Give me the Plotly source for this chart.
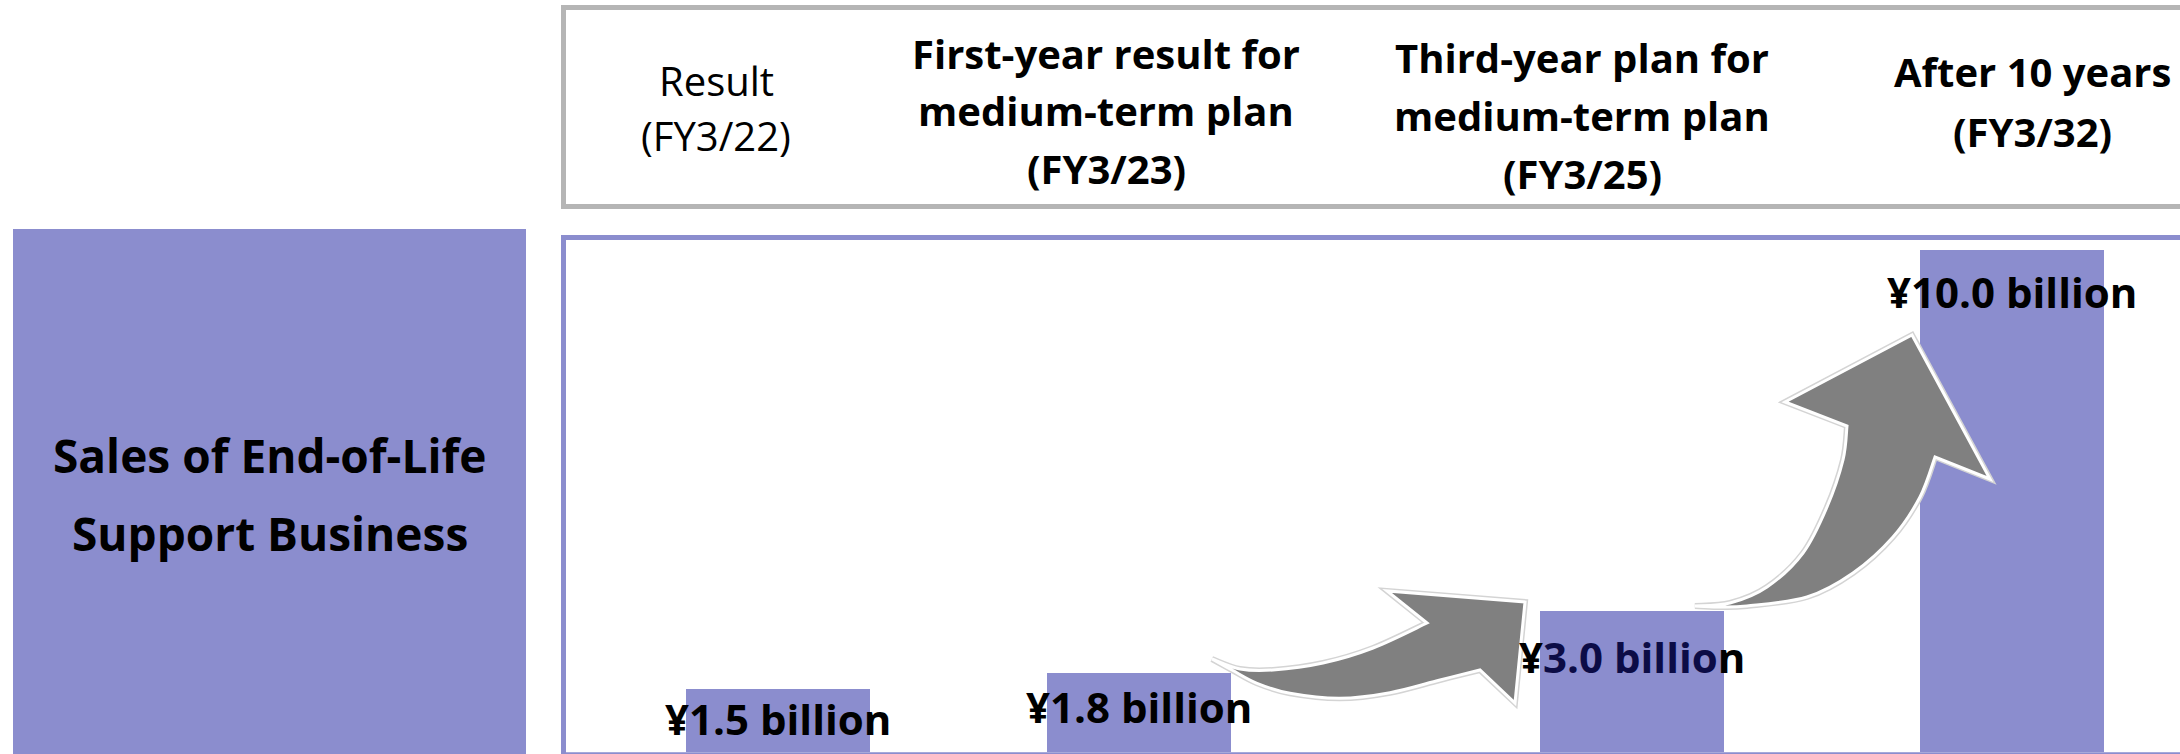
import plotly.graph_objects as go

W, H = 2180, 754

# ---------------- data ----------------
header_labels = [
    "Result<br>(FY3/22)",
    "First-year result for<br>medium-term plan<br>(FY3/23)",
    "Third-year plan for<br>medium-term plan<br>(FY3/25)",
    "After 10 years<br>(FY3/32)",
]
header_bold = [False, True, True, True]
sales_billion_yen = [1.5, 1.8, 3.0, 10.0]
value_labels = ["¥1.5 billion", "¥1.8 billion", "¥3.0 billion", "¥10.0 billion"]
row_title = "Sales of End-of-Life<br>Support Business"

# ---------------- layout constants ----------------
PURPLE = "#8b8dce"
GRAY_BORDER = "#b5b5b5"
ARROW_GRAY = "#808080"
NAVY = "#0c0c46"
FONT = "Open Sans"

BAR_SLOT = [0.0, 1.0, 2.366, 3.418]
BAR_WIDTH = 0.51
X_RANGE = [-0.587, 3.884]
Y_RANGE = [0.27, 10.2]
LABEL_SHIFT = [-30, -33, -45, -41]
HEADER_X = [716, 1106, 1582, 2032]
HEADER_Y0 = [80, 54, 58, 72]
HEADER_GAP = [56, 57, 57.5, 59.5]


def X(px):
    return px / W


def Y(py):
    return 1 - py / H


def pt(p):
    return f"{X(p[0]):.5f},{Y(p[1]):.5f}"


def smooth(points):
    """Catmull-Rom through points -> cubic bezier segments (starting after points[0])."""
    out = []
    n = len(points)
    for i in range(n - 1):
        p0 = points[i - 1] if i > 0 else points[i]
        p1 = points[i]
        p2 = points[i + 1]
        p3 = points[i + 2] if i + 2 < n else points[i + 1]
        c1 = (p1[0] + (p2[0] - p0[0]) / 6, p1[1] + (p2[1] - p0[1]) / 6)
        c2 = (p2[0] - (p3[0] - p1[0]) / 6, p2[1] - (p3[1] - p1[1]) / 6)
        out.append(f"C {pt(c1)} {pt(c2)} {pt(p2)}")
    return " ".join(out)


def arrow_path(edge_a, head, edge_b):
    s = f"M {pt(edge_a[0])} " + smooth(edge_a)
    for p in head:
        s += f" L {pt(p)}"
    s += f" L {pt(edge_b[0])} " + smooth(edge_b) + " Z"
    return s


# arrow outlines (decorative)
a1_top = [(1212, 659), (1240, 669), (1273, 670), (1323, 663), (1373, 648), (1427, 623)]
a1_head = [(1387, 591), (1525, 602), (1515, 703)]
a1_bot = [(1480, 670), (1440, 680), (1390, 692.7), (1340, 698.3), (1290, 693.3),
          (1257, 683.3), (1232, 670), (1212, 659)]

a2_left = [(1695, 606), (1730, 603), (1767, 587), (1803, 553), (1827, 507), (1843, 460), (1847, 426)]
a2_head = [(1785, 402), (1912, 335), (1990, 479)]
a2_right = [(1935, 457), (1920, 497), (1893, 537), (1853, 573), (1807, 597), (1747, 606),
            (1717, 607), (1695, 606)]

fig = go.Figure()
fig.add_trace(go.Bar(
    x=BAR_SLOT, y=sales_billion_yen, width=BAR_WIDTH,
    marker=dict(color=PURPLE, line=dict(width=0)),
    hoverinfo="skip", showlegend=False,
))

shapes = []
# left row-title box
shapes.append(dict(type="rect", xref="paper", yref="paper", layer="below",
                   x0=X(13), x1=X(526), y0=Y(760), y1=Y(229),
                   fillcolor=PURPLE, line=dict(width=0)))
# header box
shapes.append(dict(type="rect", xref="paper", yref="paper",
                   x0=X(563.5), x1=X(2200), y0=Y(206.5), y1=Y(7.5),
                   fillcolor="rgba(0,0,0,0)", line=dict(color=GRAY_BORDER, width=5)))
# chart frame
shapes.append(dict(type="rect", xref="paper", yref="paper",
                   x0=X(563.5), x1=X(2200), y0=Y(754.8), y1=Y(237.5),
                   fillcolor="rgba(0,0,0,0)", line=dict(color=PURPLE, width=5)))
# arrows
for a, h, b in [(a1_top, a1_head, a1_bot), (a2_left, a2_head, a2_right)]:
    path = arrow_path(a, h, b)
    shapes.append(dict(type="path", xref="paper", yref="paper", path=path,
                       fillcolor=ARROW_GRAY, line=dict(color="#d4d4d4", width=6)))
    shapes.append(dict(type="path", xref="paper", yref="paper", path=path,
                       fillcolor=ARROW_GRAY, line=dict(color="white", width=3)))

annotations = []
# header texts
for i, lab in enumerate(header_labels):
    for j, line in enumerate(lab.split("<br>")):
        annotations.append(dict(
            xref="paper", yref="paper", x=X(HEADER_X[i]), y=Y(HEADER_Y0[i] + j * HEADER_GAP[i]),
            xanchor="center", yanchor="middle", showarrow=False, text=line,
            font=dict(family=FONT, size=40, color="black",
                      weight="bold" if header_bold[i] else "normal"),
        ))
# row title
for j, line in enumerate(row_title.split("<br>")):
    annotations.append(dict(
        xref="paper", yref="paper", x=X(269.5), y=Y(455 + j * 77.5),
        xanchor="center", yanchor="middle", showarrow=False, text=line,
        font=dict(family=FONT, size=46, color="black", weight="bold"),
    ))
# value labels
for i, lab in enumerate(value_labels):
    txt = lab
    if i == 2:
        txt = lab[0] + f"<span style='color:{NAVY}'>" + lab[1:-1] + "</span>" + lab[-1]
    annotations.append(dict(
        xref="x", yref="y", x=BAR_SLOT[i], y=sales_billion_yen[i], yshift=LABEL_SHIFT[i],
        xanchor="center", yanchor="middle", showarrow=False, text=txt,
        font=dict(family=FONT, size=42, color="black", weight="bold"),
    ))

fig.update_layout(
    width=W, height=H,
    margin=dict(l=0, r=0, t=0, b=0),
    paper_bgcolor="white", plot_bgcolor="white",
    xaxis=dict(domain=[X(566), 1.0], range=X_RANGE, visible=False, fixedrange=True),
    yaxis=dict(domain=[Y(752), Y(240)], range=Y_RANGE, visible=False, fixedrange=True),
    shapes=shapes, annotations=annotations,
    bargap=0, showlegend=False,
)

fig.write_html(
    "out.html",
    config={"displayModeBar": False},
    post_script="document.body.style.margin='0';document.body.style.overflow='hidden';",
)
